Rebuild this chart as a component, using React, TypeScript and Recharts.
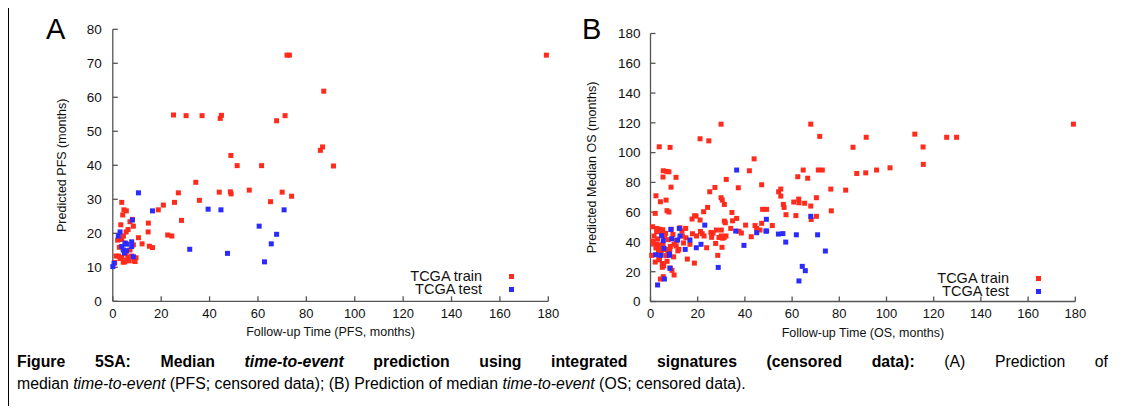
import { ScatterChart, Scatter, XAxis, YAxis, Legend } from "recharts";

// axis ticks
const xTicks = [0, 20, 40, 60, 80, 100, 120, 140, 160, 180];
const pfsTicks = [0, 10, 20, 30, 40, 50, 60, 70, 80];
const osTicks = [0, 20, 40, 60, 80, 100, 120, 140, 160, 180];
const seriesNames = ["TCGA train", "TCGA test"];

// panel A: PFS (follow-up months, predicted months)
const pfsTrain: [number, number][] = [
  [25.1, 54.8], [30.3, 54.6], [36.9, 54.6], [44.4, 53.8], [44.9, 54.7], [48.8, 42.9],
  [51.4, 39.9], [61.5, 39.9], [67.7, 53.1], [71.2, 54.6], [72, 72.4], [73, 72.4],
  [87.2, 61.8], [86.7, 45.4], [85.8, 44.4], [91.2, 39.8], [179.2, 72.4], [70, 32.1],
  [73.9, 30.9], [34.3, 35], [27.1, 31.9], [44, 32.1], [48.9, 31.6], [48.6, 32.2],
  [56.4, 32.7], [35.8, 29.7], [65.2, 29.3], [25.5, 29.1], [20.9, 28.3], [18.8, 26.9],
  [28.4, 23.8], [14.7, 23], [14.6, 20.4], [22.7, 19.5], [24.4, 19.2], [10.6, 18.7],
  [12.1, 16.9], [15.1, 16.2], [16.4, 15.8], [3.7, 29.1], [4.6, 26.9], [5.6, 26.6],
  [4.1, 25.4], [7.1, 23.4], [8.1, 24.1], [3.3, 22.5], [8.5, 22.1], [6.3, 21.1],
  [5.5, 20.4], [4.4, 19.2], [2, 18], [2.7, 15.9], [3.7, 18.2], [5.1, 17.1],
  [8.5, 16.6], [1.3, 13.3], [2.4, 13.3], [3.7, 12.9], [4.3, 11.5], [5.7, 12.1],
  [6.7, 11.9], [7.8, 13.3], [8.8, 11.9], [9.6, 12.8], [7.1, 15.1], [0.8, 11.4],
  [5.5, 14.1], [3, 12.6], [6.2, 13], [9.2, 11.7], [5, 11.6],
];
const pfsTest: [number, number][] = [
  [10.6, 31.9], [16.4, 26.6], [39.4, 27.1], [44.7, 26.9], [70.8, 26.9], [60.5, 22.1],
  [67.7, 19.7], [65.5, 16.9], [31.8, 15.3], [47.4, 14.1], [62.7, 11.6], [8.1, 23.9],
  [3, 20.4], [2.3, 19.2], [5.1, 17.1], [5.7, 16.8], [3.7, 16.1], [4.3, 15.1],
  [5.7, 14.9], [7.8, 17.5], [8.5, 13.1], [0, 10.2], [0.5, 11.2], [7.8, 16.1], [4.8, 14.2],
];

// panel B: OS
const osTrain: [number, number][] = [
  [3.7, 103.9], [8.3, 103.5], [21, 109.3], [24.7, 107.9], [29.9, 119.1], [43.9, 95.8],
  [41.9, 87.8], [67.9, 119.1], [71.7, 110.9], [85.8, 103.6], [91.4, 110.3], [112, 112.4],
  [115.5, 103.8], [125.5, 110.3], [129.7, 110.3], [179.2, 119.1], [115.6, 92.1], [101.5, 89.8],
  [95.8, 88.3], [64.7, 88.3], [71.1, 88.3], [72.8, 88.3], [91.2, 86.4], [87.4, 86],
  [62.4, 83.8], [66.6, 82.8], [47.1, 78.4], [76.4, 75.5], [82.7, 74.8], [55.2, 75.5],
  [54.3, 73.7], [55.2, 70.8], [60.7, 66.8], [62.8, 68.8], [62.9, 66.3], [65.3, 66],
  [67.9, 64.1], [70.3, 69.7], [56.3, 65.2], [56.6, 63.2], [47.5, 61.9], [49.2, 61.9],
  [76.6, 60.9], [57.4, 58.3], [61.6, 57.7], [70.3, 57.2], [68.1, 55.1], [47.1, 52.5],
  [51.6, 51], [46.4, 48], [0.9, 50.2], [0.5, 31], [2.3, 71], [2, 59.2],
  [4.2, 67], [5.4, 87.8], [6.9, 87.4], [7.8, 87.1], [5.3, 83.6], [8.7, 76.8],
  [10.8, 83.4], [6.6, 68.1], [7, 61], [7.8, 60.1], [2.8, 49], [3.9, 48.5],
  [4.6, 47.2], [5.2, 48.2], [2.6, 46.9], [4.2, 46.9], [1.3, 38.6], [2.7, 38.6],
  [3.9, 37.9], [5.3, 38.6], [2.3, 36], [3.6, 35], [4.6, 34.5], [3.4, 33],
  [4.4, 32], [3.5, 29], [3.8, 28], [5, 25.5], [5.6, 24], [5, 23],
  [5.4, 16.7], [4.2, 15.1], [6.6, 35], [7.3, 34.3], [6.6, 30.8], [7.9, 31.5],
  [8.4, 37], [8.2, 35], [8.3, 22.5], [9.1, 20.9], [10, 17.8], [10.9, 37.3],
  [11.6, 34], [12.5, 49.5], [13.3, 47.3], [14.9, 49.1], [15, 42.8], [15.6, 28.5],
  [18.6, 25.8], [17.6, 55.4], [18.7, 57.6], [19.3, 57.4], [16.7, 38.4], [21, 54.7],
  [21.2, 47], [21.9, 45.5], [22.7, 44], [22.5, 60.3], [24.2, 63.2], [25.1, 73.7],
  [27.3, 76.6], [23.8, 36.1], [25.9, 43.1], [25.6, 46.4], [27.6, 39], [26.5, 46],
  [27.9, 48], [28.5, 31], [29, 43], [30, 44], [30.6, 42.5], [31.2, 43],
  [32, 44], [30.3, 36.4], [30, 48], [32.1, 82], [29.9, 69.7], [30.4, 68.1],
  [31.3, 65.2], [31.3, 54], [31.7, 52.9], [34, 49.1], [34.8, 54.2], [36.5, 55.8],
  [34.5, 59.8], [37.2, 76.4], [37.5, 47.2], [38.5, 46], [40.3, 51.3], [42.7, 43.5],
  [44.3, 51], [45, 49], [1.5, 44], [3, 42], [6, 43.5], [7.5, 41.5],
  [9.5, 45], [11, 41], [13.5, 44], [10, 38.5], [17.8, 45.5], [19.5, 44],
  [1, 40.5], [6.4, 45.8], [8.8, 48.5], [12, 35], [14, 39.3], [2, 26.5],
  [7, 27], [9.8, 30],
];
const osTest: [number, number][] = [
  [36.5, 88.3], [49.1, 55.2], [67.9, 57.2], [48.9, 47.3], [54.2, 45.3], [56.1, 45.6],
  [61.8, 44.8], [70.8, 44.8], [57.3, 39.9], [74.1, 33.9], [64.3, 23.6], [65.6, 20.7],
  [62.9, 13.8], [3, 11.1], [5.9, 15.1], [2.2, 31.4], [4.4, 31], [4.7, 44.2],
  [5.4, 40.8], [5.7, 35.7], [8, 31.9], [8.1, 31], [8.3, 22.3], [8.6, 48.4],
  [9, 42.1], [11.5, 41.3], [12.2, 49.1], [12.5, 44], [14.7, 35], [16.7, 41.3],
  [19.4, 36.1], [21.4, 38.4], [23, 51.3], [28.7, 22.9], [36.1, 47.3], [39.6, 37.7],
  [45, 46.2], [49.2, 47.3],
];

const RED = "#ff2b1c";
const BLUE = "#2b2bff";
const AXIS = "#555";
const FONT = "'Liberation Sans', Arial, sans-serif";

const toPts = (arr: [number, number][]) => arr.map(([x, y]) => ({ x, y }));

const square = (p: any) => (
  <rect x={p.cx - 2.5} y={p.cy - 2.5} width={5} height={5} fill={p.fill} />
);

const blank = () => "";

function LegendBox({ payload }: any) {
  // keep the plotting order (train first), not alphabetical
  const items = [...(payload || [])].sort(
    (a: any, b: any) => seriesNames.indexOf(a.value) - seriesNames.indexOf(b.value)
  );
  return (
    <div style={{ fontFamily: FONT, fontSize: 14.5, color: "#111" }}>
      {items.map((e: any) => (
        <div key={e.value} style={{ display: "flex", alignItems: "center", height: 13 }}>
          <span style={{ width: 82, textAlign: "right", lineHeight: "13px", whiteSpace: "nowrap" }}>
            {e.value}
          </span>
          <span style={{ width: 5, height: 5, marginLeft: 26.5, background: e.color }} />
        </div>
      ))}
    </div>
  );
}

function Panel({
  width,
  margin,
  yAxisWidth,
  xAxisHeight,
  yTicks,
  yMax,
  yTickMargin,
  train,
  test,
  xTitle,
  yTitle,
  yTitleX,
  legendLeft,
  legendTop,
}: any) {
  return (
    <ScatterChart width={width} height={345} margin={margin}>
      <XAxis
        type="number"
        dataKey="x"
        domain={[0, 180]}
        ticks={xTicks}
        height={xAxisHeight}
        stroke={AXIS}
        strokeWidth={1.3}
        tickSize={-5}
        tickMargin={12}
        tick={{ fill: "#111", fontSize: 13, fontFamily: FONT }}
        label={{
          content: ({ viewBox }: any) => (
            <text
              x={viewBox.x + viewBox.width / 2}
              y={viewBox.y + 35}
              textAnchor="middle"
              fontSize={12.5}
              fontFamily={FONT}
              fill="#111"
            >
              {xTitle}
            </text>
          ),
        }}
      />
      <XAxis
        xAxisId="top"
        orientation="top"
        type="number"
        domain={[0, 180]}
        ticks={xTicks}
        height={0}
        stroke={AXIS}
        strokeWidth={1.3}
        tickSize={-5}
        tickFormatter={blank}
      />
      <YAxis
        type="number"
        dataKey="y"
        domain={[0, yMax]}
        ticks={yTicks}
        width={yAxisWidth}
        stroke={AXIS}
        strokeWidth={1.3}
        tickSize={-5}
        tickMargin={yTickMargin}
        tick={{ fill: "#111", fontSize: 13.5, fontFamily: FONT }}
        label={{
          content: ({ viewBox }: any) => {
            const cx = viewBox.x + yTitleX;
            const cy = viewBox.y + viewBox.height / 2;
            return (
              <text
                x={cx}
                y={cy}
                transform={`rotate(-90 ${cx} ${cy})`}
                textAnchor="middle"
                dominantBaseline="central"
                fontSize={12.5}
                fontFamily={FONT}
                fill="#111"
              >
                {yTitle}
              </text>
            );
          },
        }}
      />
      <YAxis
        yAxisId="right"
        orientation="right"
        type="number"
        domain={[0, yMax]}
        ticks={yTicks}
        width={0}
        stroke={AXIS}
        strokeWidth={1.3}
        tickSize={-5}
        tickFormatter={blank}
      />
      <Legend
        layout="vertical"
        align="center"
        verticalAlign="middle"
        content={<LegendBox />}
        wrapperStyle={{ left: legendLeft, top: legendTop, width: 130 }}
      />
      <Scatter
        name="TCGA train"
        data={toPts(train)}
        fill={RED}
        shape={square}
        isAnimationActive={false}
      />
      <Scatter
        name="TCGA test"
        data={toPts(test)}
        fill={BLUE}
        shape={square}
        isAnimationActive={false}
      />
    </ScatterChart>
  );
}

export default function App() {
  return (
    <div
      style={{
        position: "relative",
        width: 1123,
        height: 414,
        margin: -8,
        overflow: "hidden",
        background: "#fff",
      }}
    >
      <div
        style={{
          position: "absolute",
          left: 7,
          top: 6,
          width: 1110,
          height: 430,
          border: "2px solid #000",
          boxSizing: "border-box",
        }}
      />
      <div style={{ position: "absolute", left: 0, top: 0 }}>
        <Panel
          width={560}
          margin={{ top: 29.3, right: 11.7, left: 0, bottom: 0 }}
          yAxisWidth={112.8}
          xAxisHeight={43.7}
          yTicks={pfsTicks}
          yMax={80}
          yTickMargin={16}
          train={pfsTrain}
          test={pfsTest}
          xTitle="Follow-up Time (PFS, months)"
          yTitle="Predicted PFS (months)"
          yTitleX={62}
          legendLeft={400}
          legendTop={270.3}
        />
      </div>
      <div style={{ position: "absolute", left: 560, top: 0 }}>
        <Panel
          width={540}
          margin={{ top: 33.5, right: 24.7, left: 0, bottom: 0 }}
          yAxisWidth={90.5}
          xAxisHeight={43.5}
          yTicks={osTicks}
          yMax={180}
          yTickMargin={15}
          train={osTrain}
          test={osTest}
          xTitle="Follow-up Time (OS, months)"
          yTitle="Predicted Median OS (months)"
          yTitleX={32}
          legendLeft={367}
          legendTop={271.5}
        />
      </div>
      <div
        style={{
          position: "absolute",
          left: 46,
          top: 12,
          fontFamily: FONT,
          fontSize: 29,
          lineHeight: "34px",
          color: "#000",
        }}
      >
        A
      </div>
      <div
        style={{
          position: "absolute",
          left: 582,
          top: 12,
          fontFamily: FONT,
          fontSize: 29,
          lineHeight: "34px",
          color: "#000",
        }}
      >
        B
      </div>
      <div
        style={{
          position: "absolute",
          left: 17,
          top: 351,
          width: 1091,
          fontFamily: FONT,
          fontSize: 15.8,
          lineHeight: "22px",
          color: "#000",
        }}
      >
        <div style={{ textAlign: "justify", textAlignLast: "justify", whiteSpace: "normal" }}>
          <b>
            Figure 5SA: Median <i>time-to-event</i> prediction using integrated signatures
            (censored data):
          </b>{" "}
          (A) Prediction of
        </div>
        <div style={{ whiteSpace: "nowrap" }}>
          median <i>time-to-event</i> (PFS; censored data); (B) Prediction of median{" "}
          <i>time-to-event</i> (OS; censored data).
        </div>
      </div>
    </div>
  );
}
